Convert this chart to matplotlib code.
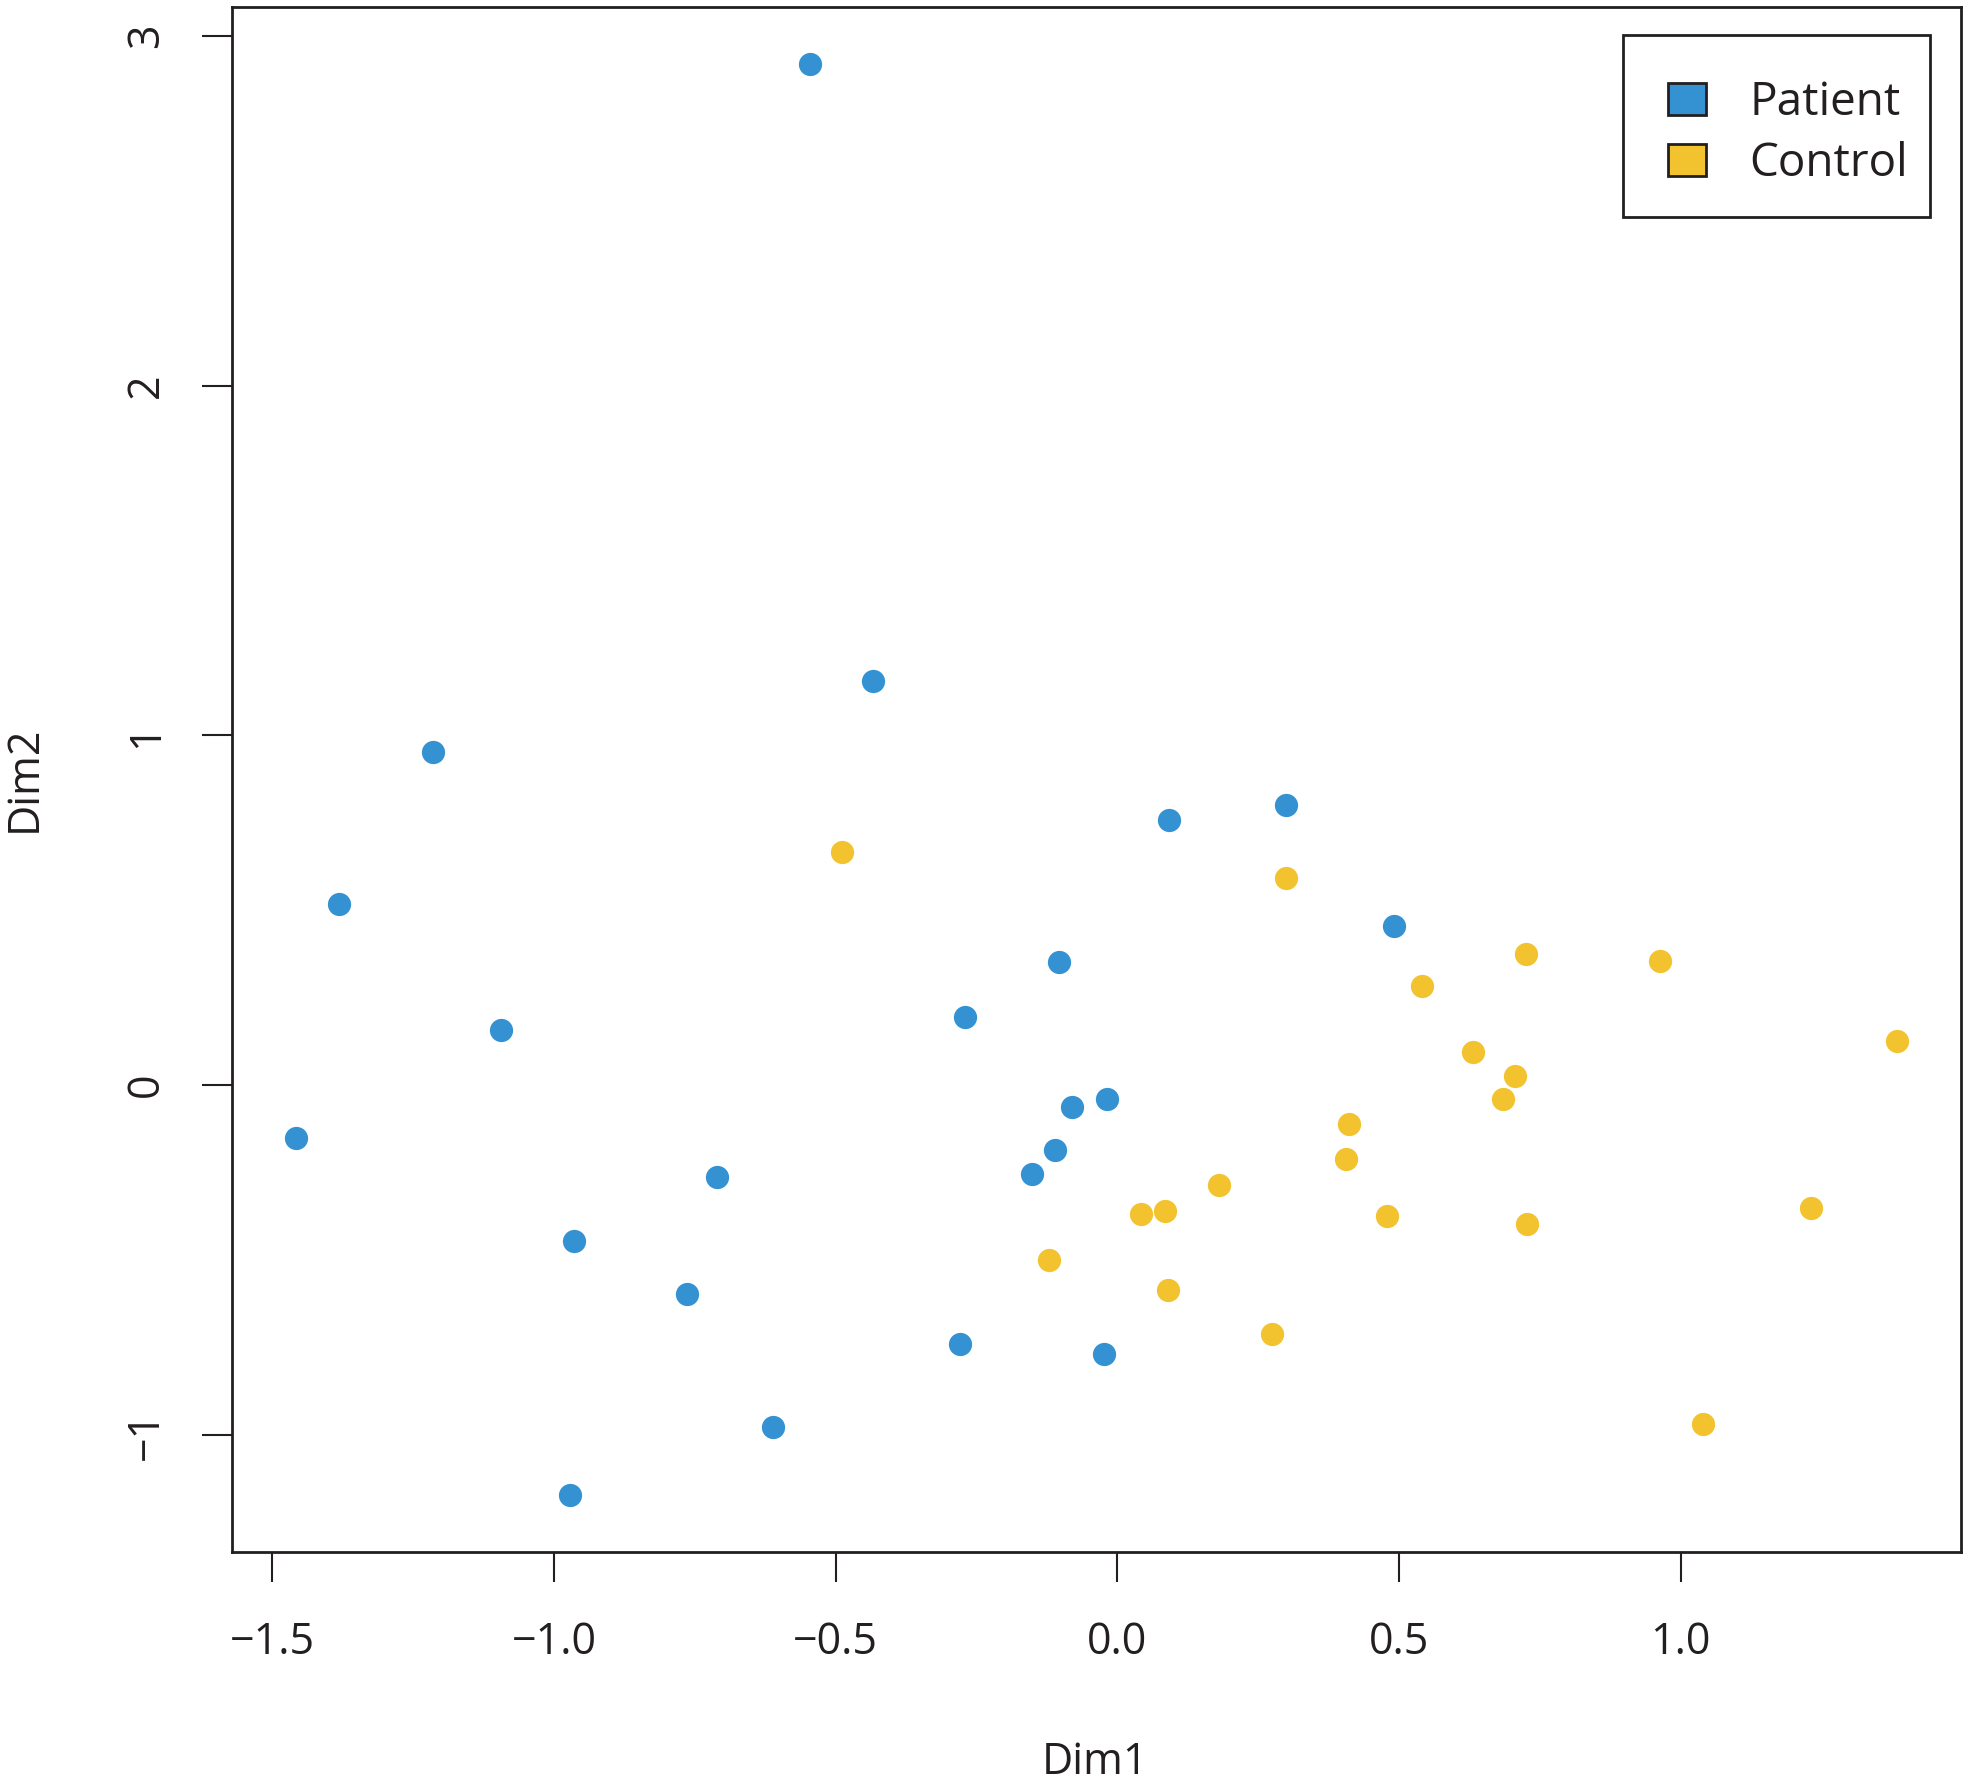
import matplotlib
matplotlib.use("Agg")
import matplotlib.pyplot as plt
from matplotlib.patches import Patch, Rectangle

plt.rcParams['font.family'] = ['Open Sans', 'DejaVu Sans']

groups = ["Patient", "Control"]
colors = {"Patient": "#3492d2", "Control": "#f2c32e"}

patient_x = [-0.545, -0.434, -1.214, -1.381, -1.094, -1.458, -0.710, -0.964, -0.764,
             -0.612, -0.971, -0.280, -0.024, -0.271, -0.104, -0.080, -0.019, -0.111,
             -0.151, 0.092, 0.300, 0.491]
patient_y = [2.919, 1.156, 0.952, 0.517, 0.158, -0.151, -0.262, -0.445, -0.596,
             -0.977, -1.171, -0.740, -0.768, 0.194, 0.352, -0.062, -0.039, -0.184,
             -0.255, 0.758, 0.801, 0.456]

control_x = [-0.488, 0.300, 0.726, 0.541, 0.964, 1.384, 0.632, 0.706, 0.684, 0.411,
             0.406, 0.181, 0.042, 0.084, -0.121, 0.090, 0.478, 0.727, 1.232, 0.274,
             1.040]
control_y = [0.668, 0.592, 0.375, 0.284, 0.355, 0.126, 0.096, 0.025, -0.040, -0.112,
             -0.210, -0.286, -0.367, -0.360, -0.500, -0.585, -0.374, -0.396, -0.352,
             -0.711, -0.969]

x_ticks = [-1.5, -1.0, -0.5, 0.0, 0.5, 1.0]
x_ticklabels = ["\u22121.5", "\u22121.0", "\u22120.5", "0.0", "0.5", "1.0"]
y_ticks = [-1, 0, 1, 2, 3]
y_ticklabels = ["\u22121", "0", "1", "2", "3"]

W, H = 1969, 1787
fig = plt.figure(figsize=(W / 100, H / 100), dpi=100)
ax = fig.add_axes([232 / W, 1 - 1552 / H, (1961 - 232) / W, (1552 - 7) / H])

ax.scatter(patient_x, patient_y, s=280, color=colors["Patient"], linewidths=0, zorder=3)
ax.scatter(control_x, control_y, s=280, color=colors["Control"], linewidths=0, zorder=3)

allx = patient_x + control_x
ally = patient_y + control_y
rx = max(allx) - min(allx)
ry = max(ally) - min(ally)
ax.set_xlim(min(allx) - 0.04 * rx, max(allx) + 0.04 * rx)
ax.set_ylim(min(ally) - 0.04 * ry, max(ally) + 0.04 * ry)

fs = 31
ax.set_xticks(x_ticks)
ax.set_xticklabels(x_ticklabels, fontsize=fs, color="#231f20")
ax.set_yticks(y_ticks)
ax.set_yticklabels(y_ticklabels, fontsize=fs, rotation=90, va="center", color="#231f20")
ax.tick_params(axis="both", direction="out", length=21.5, width=1.5, color="#231f20")
ax.tick_params(axis="x", pad=28)
ax.tick_params(axis="y", pad=24)
for sp in ax.spines.values():
    sp.set_linewidth(2.0)
    sp.set_color("#231f20")

fig.text(1095 / W, 1 - 1763 / H, "Dim1", fontsize=fs, ha="center", va="center", color="#231f20")
fig.text(25 / W, 1 - 779 / H, "Dim2", fontsize=fs, ha="center", va="center", rotation=90,
         color="#231f20")

# legend frame (R-style box)
ax.add_patch(Rectangle((0.8045, 0.8641), 0.1776, 0.1178, transform=ax.transAxes,
                       facecolor="white", edgecolor="#231f20", linewidth=2.0, zorder=4))

lfs = 33
handles = [Patch(facecolor=colors[g], edgecolor="#231f20", linewidth=2.0, label=g) for g in groups]
leg = ax.legend(handles=handles, loc="upper left", bbox_to_anchor=(0.808, 0.978),
                borderaxespad=0, fontsize=lfs, frameon=False,
                handlelength=0.83, handleheight=0.70, handletextpad=0.95,
                labelspacing=0.33, borderpad=0.85)
leg.set_zorder(5)
for t in leg.get_texts():
    t.set_color("#231f20")

fig.savefig("out.png", dpi=100)
